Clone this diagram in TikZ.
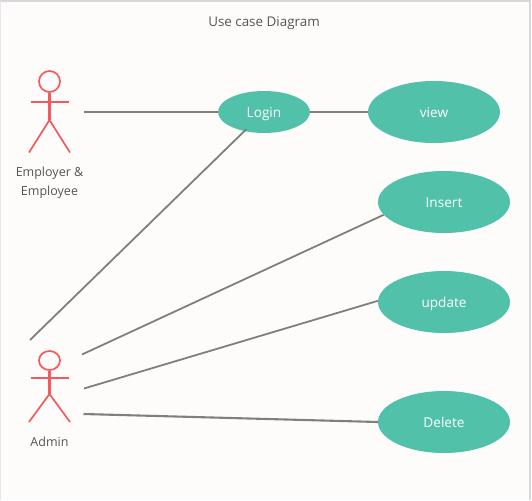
\documentclass[tikz,border=0pt]{standalone}
\usepackage{fontspec}
\setmainfont{Open Sans}
\usetikzlibrary{shapes.geometric}
\definecolor{pagebg}{HTML}{FDFCFB}
\definecolor{framec}{HTML}{D8D8DC}
\definecolor{usecasec}{HTML}{52C1A9}
\definecolor{actorc}{HTML}{F25A5E}
\definecolor{linkc}{HTML}{7F7F7B}
\definecolor{textc}{HTML}{555555}
\tikzset{
  usecase/.style={ellipse,fill=usecasec,draw=none,inner sep=0pt,minimum width=132pt,minimum height=62pt,text=white,text height=12.6pt,text depth=1.5pt,font=\fontsize{13.6}{15}\selectfont},
  smallcase/.style={usecase,minimum width=92pt,minimum height=42pt},
  link/.style={draw=linkc,line width=2.1pt},
  thinlink/.style={draw=linkc,line width=1.8pt},
  limb/.style={draw=actorc,line width=1.7pt},
  bone/.style={draw=actorc,line width=2.3pt},
  label/.style={text=textc,align=center,font=\fontsize{12.5}{19}\selectfont},
}
\begin{document}
\begin{tikzpicture}[x=1pt,y=-1pt]
\useasboundingbox (0,0) rectangle (532,500);
\fill[white] (0,0) rectangle (532,500);
\fill[pagebg] (1,2) rectangle (529,500);
\draw[framec,line width=2pt] (0,1.5) -- (530,1.5);
\draw[framec,line width=2pt] (529.5,0.5) -- (529.5,500);
\draw[framec!60,line width=1pt] (0.5,1.5) -- (0.5,500);

\node[label,font=\fontsize{13.4}{19}\selectfont] (title) at (264,23.5) {Use case Diagram};

% ellipses
\node[smallcase] (login) at (264,112) {Login};
\node[usecase] (view) at (434,112) {view};
\node[usecase] (insert) at (444,202) {Insert};
\node[usecase] (update) at (444,302) {update};
\node[usecase] (delete) at (444,422) {Delete};

% actor 1
\node[circle,draw=actorc,line width=1.7pt,minimum size=21pt,inner sep=0pt] (headA) at (49.5,81.5) {};
\coordinate (hipA) at (49.5,120);
\draw[bone] (headA.south) -- (hipA);
\draw[bone] (30.5,101.7) -- (68.5,101.7);
\draw[limb] (29,152.5) -- (hipA) -- (70,152.5);
\node[label] (labA) at (49.5,183) {Employer \&\\Employee};

% actor 2
\node[ellipse,draw=actorc,line width=1.7pt,minimum width=21pt,minimum height=19pt,inner sep=0pt] (headB) at (49.5,360.5) {};
\coordinate (hipB) at (49.5,394);
\draw[bone] (headB.south) -- (hipB);
\draw[bone] (30.5,377.7) -- (68.5,377.7);
\draw[limb] (29,422) -- (hipB) -- (70,422);
\node[label] (labB) at (49.5,442) {Admin};

% connector free ends
\coordinate (a1) at (83.5,112);
\coordinate (b1) at (30,340);
\coordinate (b2) at (82,354.5);
\coordinate (b3) at (84,388.5);
\coordinate (b4) at (83.5,414);

\draw[link] (a1) -- (login.west);
\draw[link] (login.east) -- (view.west);
\draw[thinlink,shorten >=-3pt] (b1) -- (login);
\draw[thinlink] (b2) -- (insert.192);
\draw[thinlink] (b3) -- (update.179);
\draw[link] (b4) -- (delete.west);
\end{tikzpicture}
\end{document}
